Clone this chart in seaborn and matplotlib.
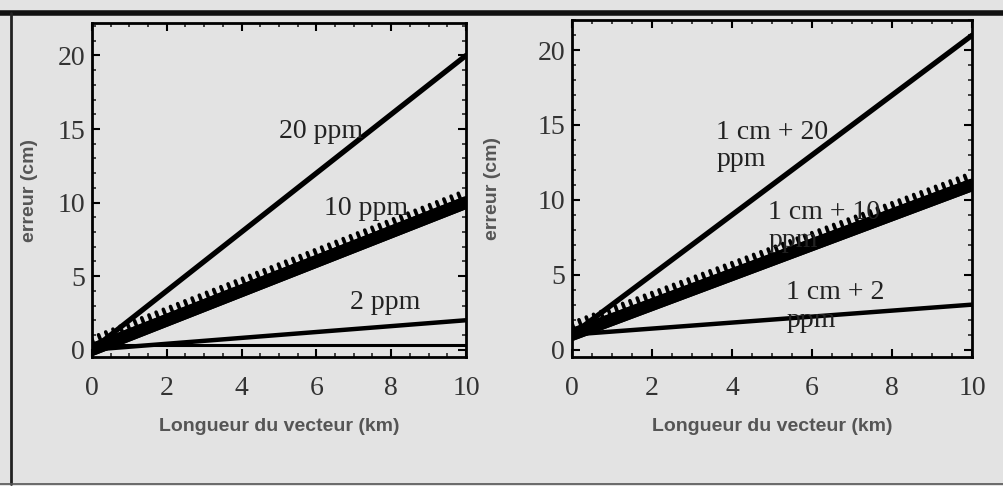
import matplotlib
matplotlib.use("Agg")
import matplotlib.pyplot as plt
import matplotlib.patheffects as pe
from matplotlib.lines import Line2D
from matplotlib.ticker import MultipleLocator
import seaborn as sns

# data
distance_km = [0, 10]
left_20ppm = [0, 20]
left_10ppm = [0, 10]
left_2ppm = [0, 2]
left_zero = [0.3, 0.3]
right_20ppm = [1, 21]
right_10ppm = [1, 11]
right_2ppm = [1, 3]

left_labels = ["20 ppm", "10 ppm", "2 ppm"]
right_labels = ["1 cm + 20\nppm", "1 cm + 10\nppm", "1 cm + 2\nppm"]
x_ticks = [0, 2, 4, 6, 8, 10]
y_ticks = [0, 5, 10, 15, 20]

bg = "#e3e3e3"
sns.set_style("ticks")
plt.rcParams.update({
    "axes.facecolor": bg,
    "figure.facecolor": bg,
    "axes.edgecolor": "black",
    "axes.linewidth": 2.0,
    "xtick.direction": "in",
    "ytick.direction": "in",
    "xtick.top": True,
    "ytick.right": True,
    "xtick.major.size": 6,
    "ytick.major.size": 6,
    "xtick.minor.size": 3,
    "ytick.minor.size": 3,
    "xtick.major.width": 1.5,
    "ytick.major.width": 1.5,
    "xtick.minor.width": 1.2,
    "ytick.minor.width": 1.2,
})

fig = plt.figure(figsize=(10.04, 4.86), dpi=100)
ax1 = fig.add_axes([0.0916, 0.2654, 0.3725, 0.687])
ax2 = fig.add_axes([0.5698, 0.2654, 0.3985, 0.693])

thick_fx = [pe.Stroke(linewidth=9, foreground="black"),
            pe.withTickedStroke(spacing=5.5, angle=90, length=1.5, linewidth=2.6)]

serif = "Liberation Serif"

def draw_panel(ax, series, labels, label_pos, ylim):
    s20, s10, s2 = series
    sns.lineplot(x=distance_km, y=s20, ax=ax, color="black", linewidth=3.8)
    sns.lineplot(x=distance_km, y=s10, ax=ax, color="black", linewidth=9,
                 path_effects=thick_fx)
    sns.lineplot(x=distance_km, y=s2, ax=ax, color="black", linewidth=3.2)
    for txt, (tx, ty) in zip(labels, label_pos):
        ax.text(tx, ty, txt, fontsize=20, family=serif, color="#222222",
                ha="left", va="center", linespacing=1.15)
    ax.set_xlim(0, 10)
    ax.set_ylim(*ylim)
    ax.set_xticks(x_ticks)
    ax.set_yticks(y_ticks)
    ax.xaxis.set_minor_locator(MultipleLocator(0.5))
    ax.yaxis.set_minor_locator(MultipleLocator(1))
    ax.tick_params(which="both", top=True, right=True)
    ax.tick_params(axis="both", which="major", labelsize=20, colors="black",
                   labelcolor="#333333")
    ax.tick_params(axis="x", which="major", pad=14)
    ax.tick_params(axis="y", which="major", pad=5)
    for lab in ax.get_xticklabels() + ax.get_yticklabels():
        lab.set_family(serif)
    ax.set_xlabel("Longueur du vecteur (km)", fontsize=14, fontweight="bold",
                  family="Liberation Sans", color="#555555", labelpad=12)

draw_panel(ax1, (left_20ppm, left_10ppm, left_2ppm), left_labels,
           [(5.0, 14.8), (6.2, 9.6), (6.9, 3.2)], (-0.5, 22.2))
sns.lineplot(x=distance_km, y=left_zero, ax=ax1, color="black", linewidth=2.2)
ax1.set_ylabel("erreur (cm)", fontsize=14, fontweight="bold",
               family="Liberation Sans", color="#555555", labelpad=14)

draw_panel(ax2, (right_20ppm, right_10ppm, right_2ppm), right_labels,
           [(3.6, 13.6), (4.9, 8.2), (5.35, 2.9)], (-0.5, 22.0))
ax2.set_ylabel("erreur (cm)", fontsize=14, fontweight="bold",
               family="Liberation Sans", color="#555555", labelpad=26)

# frame of the scanned page
fig.add_artist(Line2D([0, 1], [1 - 13 / 486, 1 - 13 / 486], color="#111111",
                      linewidth=4, transform=fig.transFigure))
fig.add_artist(Line2D([11 / 1004, 11 / 1004], [2 / 486, 1 - 13 / 486],
                      color="#222222", linewidth=2, transform=fig.transFigure))
fig.add_artist(Line2D([0, 1], [2 / 486, 2 / 486], color="#555555",
                      linewidth=1.2, transform=fig.transFigure))

fig.savefig("out.png", dpi=100, facecolor=bg)
